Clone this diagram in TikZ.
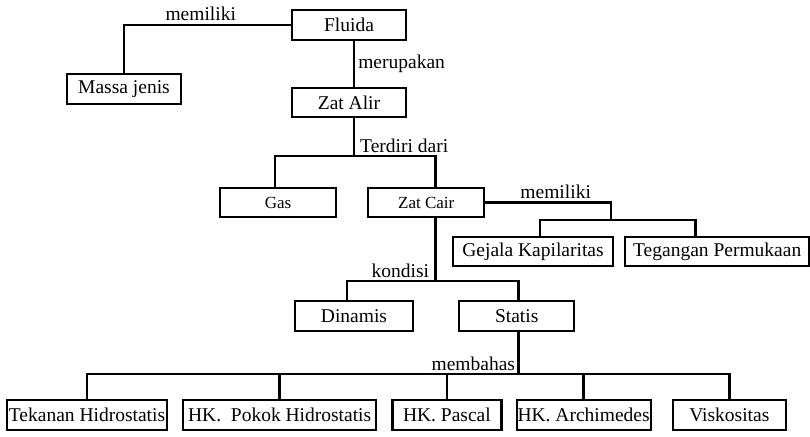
\documentclass[tikz,border=0pt]{standalone}
\usepackage{fontspec}
\setmainfont{Liberation Serif}
\usetikzlibrary{positioning,calc}
\tikzset{kotak/.style={draw,line width=2.2pt,minimum height=30pt,inner sep=0pt,
  font=\fontsize{19.5}{21}\selectfont},
  kecil/.style={kotak,minimum height=29pt,font=\fontsize{17}{19}\selectfont},
  garis/.style={line width=2.6pt},
  lbl/.style={font=\fontsize{19.5}{21}\selectfont,inner sep=3pt}}

\begin{document}
\begin{tikzpicture}[x=1pt,y=-1pt]
\useasboundingbox (0,0) rectangle (810,436);
% kotak-kotak
\node[kotak,minimum width=114pt] (fluida) at (349,25) {Fluida};
\node[kotak,minimum width=114pt] (massa) at (124,89) {Massa jenis};
\node[kotak,minimum width=114pt,minimum height=29pt] (zatalir) at (349,102.5) {Zat Alir};
\node[kecil,minimum width=116pt] (gas) at (278,202.5) {Gas};
\node[kecil,minimum width=116pt,right=30pt of gas] (zatcair) {Zat Cair};
\node[kotak,minimum width=160pt,minimum height=29pt] (gejala) at (533,251.5) {Gejala Kapilaritas};
\node[kotak,minimum width=184pt,minimum height=29pt,right=10pt of gejala] (tegangan) {Tegangan Permukaan};
\node[kotak,minimum width=118pt] (dinamis) at (354,316) {Dinamis};
\node[kotak,minimum width=115pt,right=44pt of dinamis] (statis) {Statis};
\node[kotak,minimum width=160pt] (tekanan) at (87,415) {Tekanan Hidrostatis};
\node[kotak,minimum width=193pt,right=14pt of tekanan] (pokok) {HK.\ \ Pokok Hidrostatis};
\node[kotak,minimum width=109pt,right=14pt of pokok] (pascal) {HK. Pascal};
\node[kotak,minimum width=134pt,right=13pt of pascal] (archimedes) {HK. Archimedes};
\node[kotak,minimum width=113pt,right=20pt of archimedes] (viskositas) {Viskositas};
% titik cabang
\coordinate (j1) at ($(zatalir.south)+(5,38)$);
\coordinate (j2) at (611,220);
\coordinate (j3) at ($(zatcair.south)+(9,63)$);
\coordinate (j4) at ($(statis.south)+(1.5,42)$);
% garis penghubung
\draw[garis] (fluida.west) -| (massa.north) node[lbl,pos=0.27,above] (l1) {memiliki};
\draw[garis] ([xshift=5pt]fluida.south) -- ([xshift=5pt]zatalir.north)
  node[lbl,midway,right] (l2) {merupakan};
\draw[garis] ([xshift=5pt]zatalir.south) -- (j1);
\node[lbl,above right,xshift=3pt] (l3) at (j1) {Terdiri dari};
\draw[garis] ([xshift=-3pt]gas.north) |- (j1) -| ([xshift=9pt]zatcair.north);
\draw[garis] (zatcair.east) -| (j2) node[lbl,pos=0.28,above] (l4) {memiliki};
\draw[garis] ([xshift=7pt]gejala.north) |- (j2) -| ([xshift=-22pt]tegangan.north);
\draw[garis] ([xshift=9pt]zatcair.south) -- (j3);
\node[lbl,above left,xshift=-3pt] (l5) at (j3) {kondisi};
\draw[garis] ([xshift=-7pt]dinamis.north) |- (j3) -| ([xshift=1.5pt]statis.north);
\draw[garis] ([xshift=1.5pt]statis.south) -- (j4);
\node[lbl,above left] (l6) at (j4) {membahas};
\draw[garis] (tekanan.north) |- (j4) -| (viskositas.north);
\foreach \n in {pokok,pascal,archimedes}
  \draw[garis] (\n.north) -- (\n.north |- j4);
\end{tikzpicture}
\end{document}
